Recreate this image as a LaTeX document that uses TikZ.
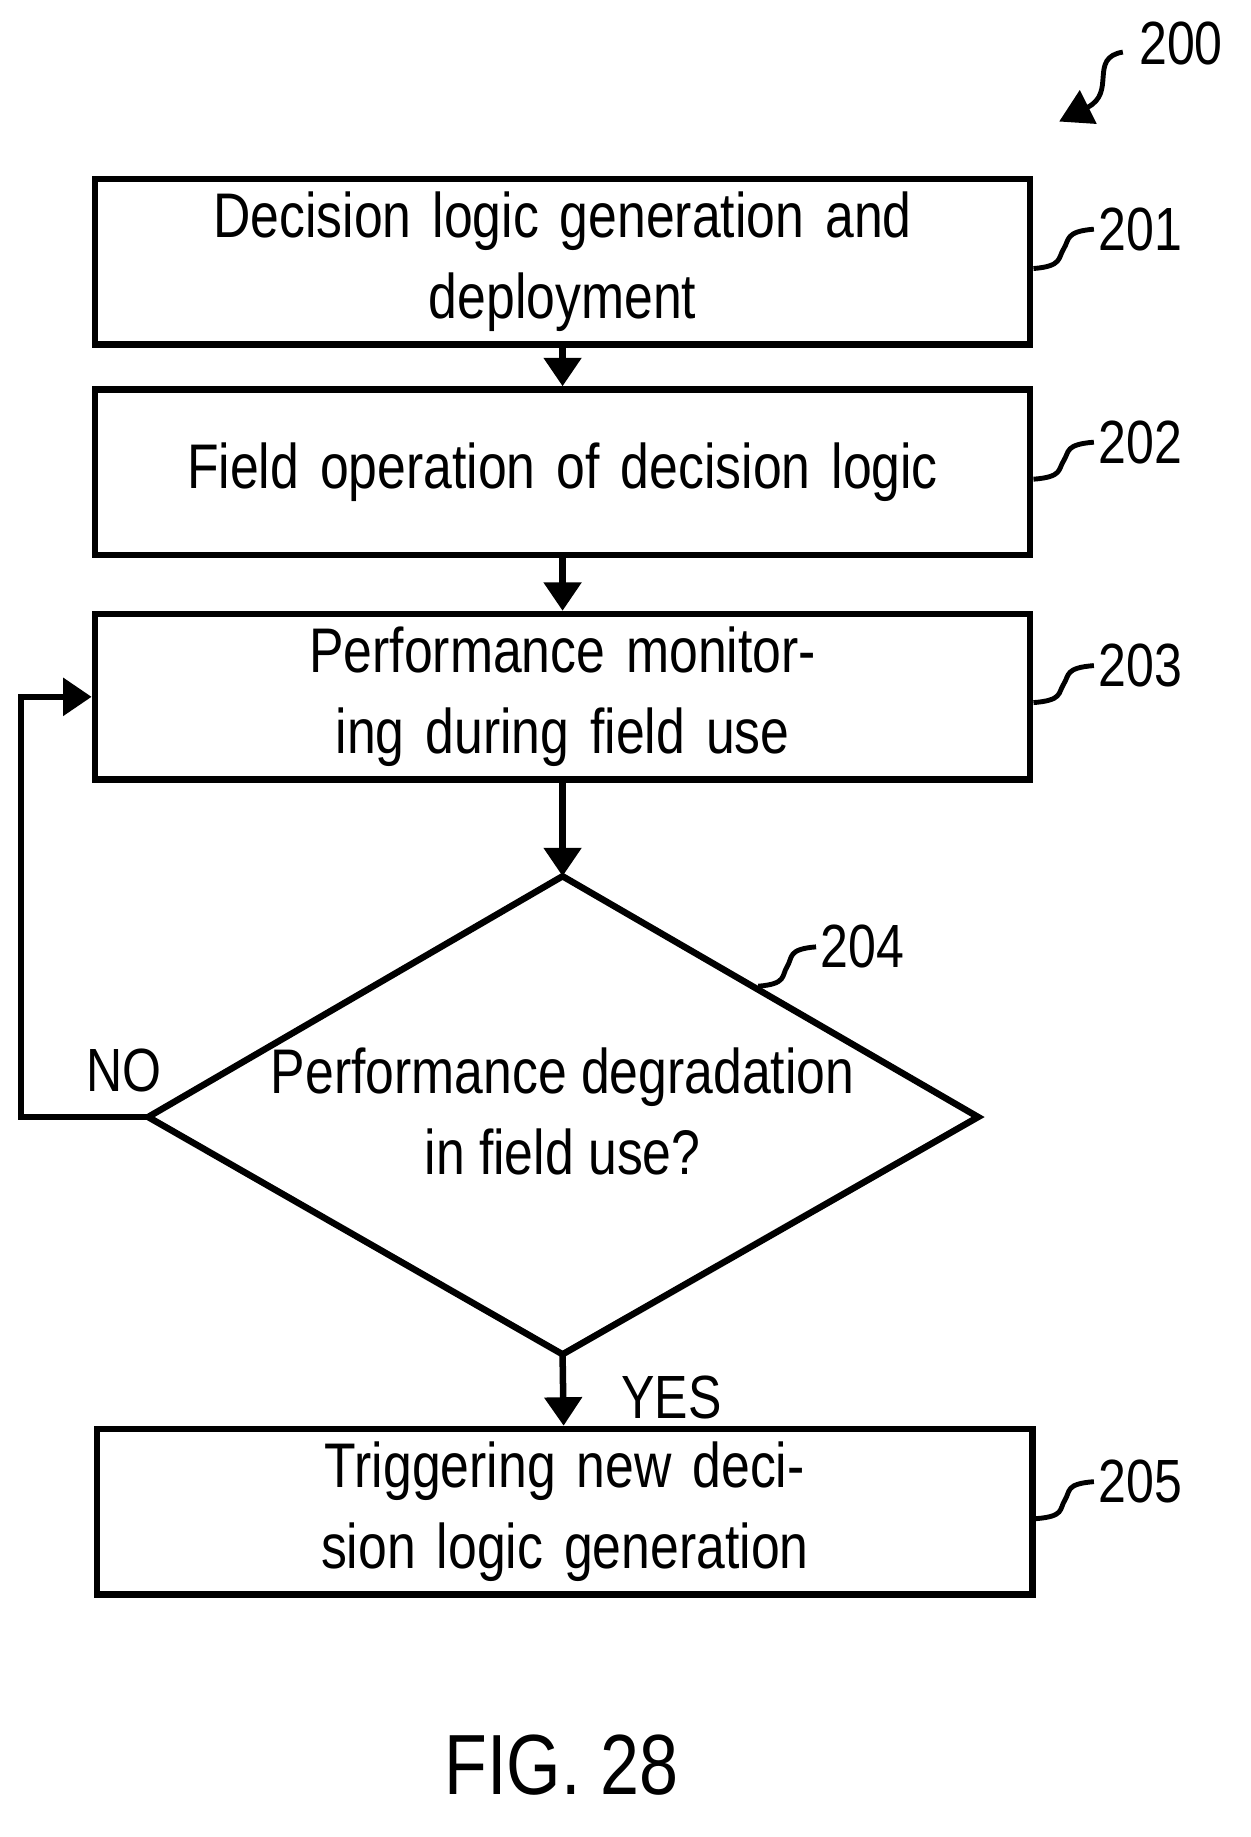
\documentclass[tikz,border=0pt]{standalone}
\usepackage{fontspec}
\setmainfont{Liberation Sans}[FakeStretch=0.82]
\usetikzlibrary{arrows.meta,calc}
\tikzset{
  stepbox/.style={draw, line width=1.6pt, minimum width=8.08cm, minimum height=1.43cm, text width=8cm, inner sep=0pt, align=center, font=\fontsize{15.5}{20}\selectfont},
  flow/.style={line width=1.6pt, -{Triangle[length=7pt,width=9pt]}},
  tag/.style={font=\fontsize{15}{18}\selectfont, anchor=west, inner sep=1pt},
  squig/.style={line width=1.2pt},
}
\newcommand{\refmark}[3]{%
\draw[squig] #1 .. controls +(25,-2) and +(-5,8) .. ($#1!0.5!#2$) .. controls +(5,-8) and +(-25,2) .. #2;%
\node[tag] at #2 {#3};}
\begin{document}
\begin{tikzpicture}[x=0.1mm,y=-0.1mm]
\useasboundingbox (0,0) rectangle (1080,1587);
\node[stepbox] (gen) at (486,226) {Decision logic generation and\\deployment};
\node[stepbox] (field) at (486,408) {Field operation of decision logic};
\node[stepbox] (mon) at (486,602) {Performance monitoring during field use};
% decision diamond
\coordinate (dtop) at (486,757);
\coordinate (dright) at (845,965);
\coordinate (dbot) at (486,1170);
\coordinate (dleft) at (128,965);
\draw[line width=1.6pt, line join=miter] (dtop) -- (dright) -- (dbot) -- (dleft) -- cycle;
\node[align=center, font=\fontsize{15.5}{20}\selectfont] (deg) at (486,960) {Performance degradation\\in field use?};
\node[stepbox] (trig) at (488,1306) {Triggering new decision logic generation};
\draw[flow] (gen) -- (field);
\draw[flow] (field) -- (mon);
\draw[flow] (mon) -- (dtop);
\draw[flow] (dbot) -- (trig);
\coordinate (loop) at (18,965);
\draw[flow] (dleft) -- (loop) |- (mon.west);
\node[font=\fontsize{15}{18}\selectfont] (no) at (107,925) {NO};
\node[font=\fontsize{15}{18}\selectfont] (yes) at (580,1207) {YES};
% reference numerals
\refmark{(gen.east |- 0,232)}{(945,198)}{201}
\refmark{(field.east |- 0,414)}{(945,382)}{202}
\refmark{(mon.east |- 0,607)}{(945,575)}{203}
\refmark{(655,852)}{(705,818)}{204}
\refmark{(trig.east |- 0,1312)}{(945,1280)}{205}
\coordinate (fig) at (970,45);
\draw[squig, -{Triangle[length=8pt,width=9pt]}] (fig) .. controls (940,50) and (965,80) .. (915,105);
\node[tag] (num) at (980,38) {200};
\node[font=\fontsize{21}{24}\selectfont] (cap) at (485,1525) {FIG. 28};
\end{tikzpicture}
\end{document}
